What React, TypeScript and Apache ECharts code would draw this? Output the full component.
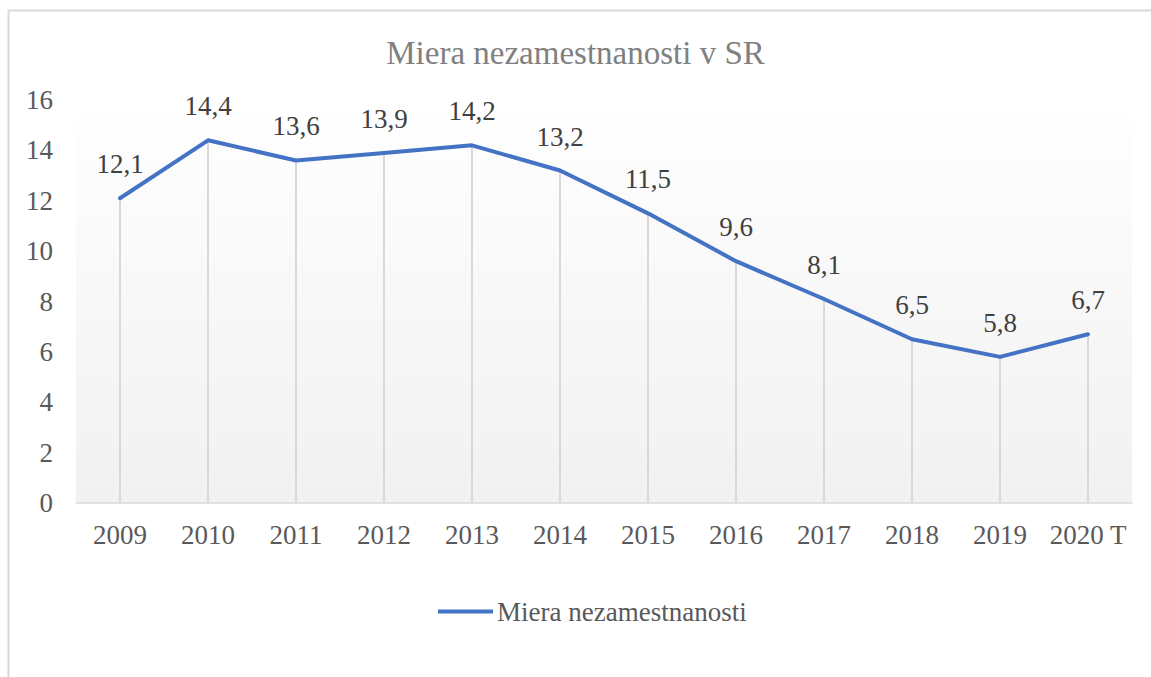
import React, { useEffect, useRef } from "react";
import * as echarts from "echarts";

const categories = ["2009", "2010", "2011", "2012", "2013", "2014", "2015", "2016", "2017", "2018", "2019", "2020 T"];
const unemployment = [12.1, 14.4, 13.6, 13.9, 14.2, 13.2, 11.5, 9.6, 8.1, 6.5, 5.8, 6.7];
const seriesName = "Miera nezamestnanosti";
const titleText = "Miera nezamestnanosti v SR";

const FONT = "Liberation Serif";

export default function App() {
  const ref = useRef<HTMLDivElement>(null);
  useEffect(() => {
    document.body.style.margin = "0";
    const chart = echarts.init(ref.current!, null, { renderer: "svg" });
    chart.setOption({
      animation: false,
      backgroundColor: "#ffffff",
      textStyle: { fontFamily: FONT },
      title: {
        text: titleText,
        left: "center",
        top: 31,
        textStyle: { fontFamily: FONT, fontSize: 33, fontWeight: "normal", color: "#808080" },
      },
      graphic: [
        {
          type: "rect",
          shape: { x: 8.5, y: 10.5, width: 1200, height: 800 },
          style: { fill: "none", stroke: "#d9d9d9", lineWidth: 2 },
          silent: true,
          z: -10,
        },
      ],
      legend: {
        data: [seriesName],
        bottom: 52,
        left: 438,
        padding: 0,
        icon: "rect",
        itemWidth: 55,
        itemHeight: 4,
        itemGap: 10,
        textStyle: { fontFamily: FONT, fontSize: 27, color: "#595959", padding: [0, 0, 0, -1] },
      },
      grid: {
        left: 76,
        right: 19,
        top: 100,
        bottom: 174,
        show: true,
        borderWidth: 0,
        backgroundColor: new echarts.graphic.LinearGradient(0, 0, 0, 1, [
          { offset: 0, color: "#ffffff" },
          { offset: 0.12, color: "#fdfdfd" },
          { offset: 1, color: "#f1f1f1" },
        ]),
      },
      xAxis: {
        type: "category",
        data: categories,
        boundaryGap: true,
        axisLine: { show: true, lineStyle: { color: "#d9d9d9", width: 1.5 } },
        axisTick: { show: false },
        axisLabel: { fontFamily: FONT, fontSize: 27, color: "#595959", margin: 18, interval: 0 },
        splitLine: { show: false },
      },
      yAxis: {
        type: "value",
        min: 0,
        max: 16,
        interval: 2,
        axisLine: { show: false },
        axisTick: { show: false },
        splitLine: { show: false },
        axisLabel: { fontFamily: FONT, fontSize: 27, color: "#595959", margin: 23 },
      },
      series: [
        {
          name: "drop",
          type: "bar",
          data: unemployment,
          barWidth: 2,
          itemStyle: { color: "#d9d9d9" },
          silent: true,
          z: 1,
        },
        {
          name: seriesName,
          type: "line",
          data: unemployment,
          symbol: "circle",
          symbolSize: 1,
          showSymbol: true,
          lineStyle: { color: "#4472c4", width: 4, cap: "round", join: "round" },
          itemStyle: { color: "#4472c4" },
          z: 3,
          label: {
            show: true,
            position: "top",
            distance: 20,
            fontFamily: FONT,
            fontSize: 27,
            color: "#404040",
            formatter: (p: any) => String(p.value).replace(".", ","),
          },
        },
      ],
    });
    return () => chart.dispose();
  }, []);
  return <div ref={ref} style={{ width: 1151, height: 677 }} />;
}
